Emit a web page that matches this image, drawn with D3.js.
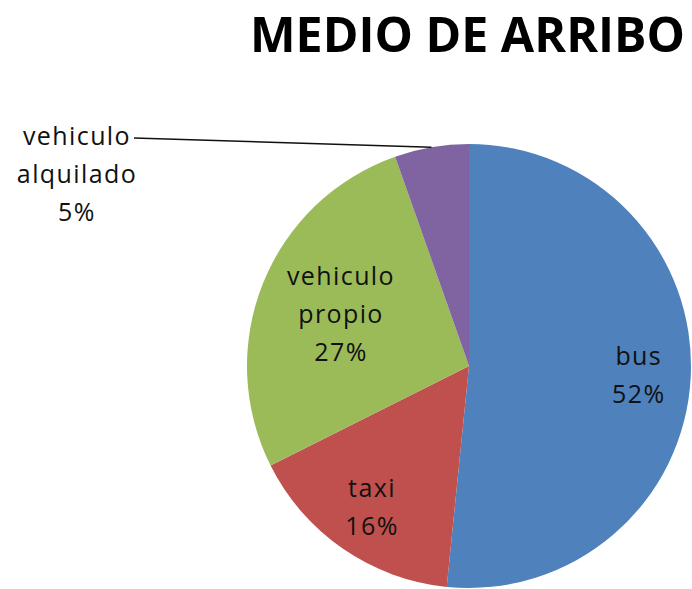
<!DOCTYPE html>
<html><head><meta charset="utf-8">
<script src="https://cdn.jsdelivr.net/npm/d3@7"></script>
<style>body{margin:0;background:#fff}svg{display:block}</style>
</head><body>
<svg id="c" width="692" height="589"></svg>
<script>
const title = "MEDIO DE ARRIBO";
const categories = ["bus", "taxi", "vehiculo propio", "vehiculo alquilado"];
const values = [51.6, 16.0, 27.0, 5.4];
const colors = ["#4F81BD", "#C0504D", "#9BBB59", "#8064A2"];

const svg = d3.select("#c");
const W = 692, H = 589;
const cx = 469, cy = 366, R = 222;
const total = d3.sum(values);
const data = categories.map((c, i) => ({cat: c, value: values[i], color: colors[i]}));

svg.append("rect").attr("width", W).attr("height", H).attr("fill", "#fff");

svg.append("text")
  .attr("x", 250).attr("y", 52)
  .attr("font-family", "'Open Sans', sans-serif")
  .attr("font-weight", "bold").attr("font-size", 48)
  .attr("textLength", 435).attr("lengthAdjust", "spacingAndGlyphs")
  .attr("fill", "#000")
  .text(title);

const pie = d3.pie().sort(null).value(d => d.value);
const arcs = pie(data);
const arc = d3.arc().innerRadius(0).outerRadius(R);
const g = svg.append("g").attr("transform", `translate(${cx},${cy})`);
g.selectAll("path").data(arcs).join("path")
  .attr("d", arc).attr("fill", d => d.data.color);

const fmt = d3.format(".0%");
const labelR = [170, 171, 138];
const lineH = 38;
const fontCfg = sel => sel.attr("font-family", "'Open Sans', sans-serif")
  .attr("font-size", 25).attr("letter-spacing", 1.4).attr("fill", "#111")
  .attr("text-anchor", "middle");

arcs.forEach((a, i) => {
  const lines = a.data.cat.split(" ").concat([fmt(a.data.value / total)]);
  let px, py;
  if (i < 3) {
    const c = d3.arc().innerRadius(labelR[i]).outerRadius(labelR[i]).centroid(a);
    px = cx + c[0]; py = cy + c[1];
  } else {
    px = 77; py = 174;
    const mid = (a.startAngle + a.endAngle) / 2;
    const ex = cx + R * Math.sin(mid), ey = cy - R * Math.cos(mid);
    svg.append("path")
      .attr("d", `M134,138 L${ex},${ey}`)
      .attr("stroke", "#111").attr("stroke-width", 1.5).attr("fill", "none");
  }
  const t = svg.append("text").call(fontCfg);
  lines.forEach((l, k) => {
    t.append("tspan").attr("x", px)
      .attr("y", py + (k - (lines.length - 1) / 2) * lineH + 9)
      .text(l);
  });
});
</script>
</body></html>
